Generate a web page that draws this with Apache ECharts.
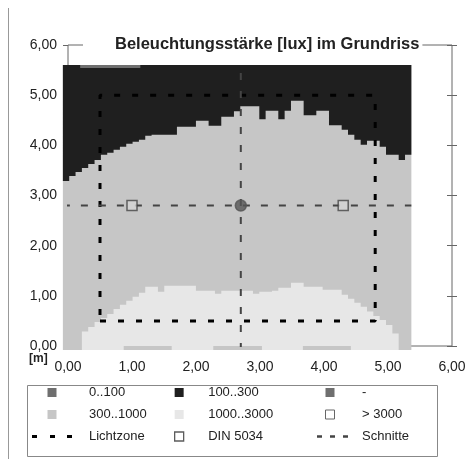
<!DOCTYPE html>
<html><head><meta charset="utf-8">
<script src="https://cdn.jsdelivr.net/npm/echarts@6/dist/echarts.min.js"></script>
<style>html,body{margin:0;padding:0;background:#fff}#c{width:471px;height:459px}</style>
</head><body><div id="c"></div>
<script>
// ---- data ----
const xTicks = [0, 1, 2, 3, 4, 5, 6];
const yTicks = [0, 1, 2, 3, 4, 5, 6];
// illuminance map: 55 columns, each column split into classes by boundary heights [m]
const colStart = -0.08, colWidth = 0.099;
const mapBottom = -0.08, mapTop = 5.6;
// lower edge of the 100..300 lux zone (dark) per column
const darkFrom = [3.29,3.39,3.47,3.55,3.63,3.71,3.81,3.85,3.91,3.97,4.03,4.07,4.11,4.19,4.21,4.21,4.21,4.21,4.37,4.37,
  4.37,4.49,4.49,4.39,4.39,4.57,4.57,4.68,4.78,4.78,4.78,4.52,4.69,4.69,4.52,4.69,4.89,4.89,4.60,4.60,
  4.69,4.69,4.40,4.40,4.31,4.21,4.11,4.01,4.09,4.09,3.97,3.81,3.81,3.71,3.81];
// upper edge of the 1000..3000 lux zone (bright) per column, 0 = none
const brightTo = [0,0,0,0.29,0.38,0.48,0.56,0.64,0.74,0.82,0.90,0.98,1.06,1.18,1.18,1.08,1.20,1.20,1.20,1.20,
  1.20,1.10,1.10,1.10,1.04,1.10,1.10,1.10,1.10,1.10,1.04,1.08,1.08,1.10,1.16,1.16,1.26,1.26,1.18,1.18,
  1.18,1.12,1.12,1.12,1.02,0.94,0.86,0.78,0.69,0.60,0.52,0.42,0.25,0,0];
// 300..1000 strips along the window wall (x ranges) and their depth
const windowStripsX = [[0.87, 1.62], [2.27, 3.03], [3.67, 4.42]];
const windowStripY = [-0.08, 0];
// 0..100 strip at the back wall
const backStripX = [[0.19, 1.13]];
const backStripY = [5.54, 5.6];
// Lichtzone rectangle
const lichtzoneX = [0.5, 4.8, 4.8, 0.5, 0.5];
const lichtzoneY = [0.5, 0.5, 5.0, 5.0, 0.5];
// Schnitte
const schnittX = 2.7, schnittY = 2.8;
// DIN 5034 points
const dinX = [1.0, 2.7, 4.3];
const dinY = [2.8, 2.8, 2.8];

// ---- chart ----
const FONT = 'Liberation Sans, Arial, sans-serif';
const fmt = v => v.toFixed(2).replace('.', ',');
const nCols = darkFrom.length;
const edge = i => colStart + colWidth * i;
const colEnd = edge(nCols);

function rectItem(x0, x1, y0, y1) {
  return function (params, api) {
    const a = api.coord([x0, y1]), b = api.coord([x1, y0]);
    return {type: 'rect', shape: {x: a[0], y: a[1], width: b[0] - a[0], height: b[1] - a[1]},
      style: {fill: api.visual('color')}};
  };
}
function rectsSeries(name, color, xr, yr) {
  return {
    type: 'custom', name, coordinateSystem: 'cartesian2d', itemStyle: {color}, z: 2,
    data: xr.map((r, i) => [i, 0]),
    renderItem: (params, api) => {
      const r = xr[params.dataIndex];
      return rectItem(r[0], r[1], yr[0], yr[1])(params, api);
    }
  };
}
function polySeries(name, color, ptsFn) {
  return {
    type: 'custom', name, coordinateSystem: 'cartesian2d', itemStyle: {color}, z: 2,
    data: [[0, 0]],
    renderItem: (params, api) => ({
      type: 'polygon', shape: {points: ptsFn().map(p => api.coord(p))},
      style: {fill: api.visual('color')}
    })
  };
}

const C_DARK = '#1f1f1f', C_MID = '#6f6f6f', C_GRAY = '#c6c6c6', C_BRIGHT = '#e7e7e7';

const series = [
  {type: 'custom', name: '300..1000', coordinateSystem: 'cartesian2d', itemStyle: {color: C_GRAY}, z: 2,
   data: [[0, 0]], renderItem: (p, api) => rectItem(colStart, colEnd, mapBottom, mapTop)(p, api)},
  polySeries('100..300', C_DARK, () => {
    const pts = [[colStart, mapTop], [colEnd, mapTop]];
    for (let i = nCols - 1; i >= 0; i--) { pts.push([edge(i + 1), darkFrom[i]]); pts.push([edge(i), darkFrom[i]]); }
    return pts;
  }),
  polySeries('1000..3000', C_BRIGHT, () => {
    const pts = [[colStart, mapBottom]];
    for (let i = 0; i < nCols; i++) {
      const h = brightTo[i] > 0 ? brightTo[i] : mapBottom;
      pts.push([edge(i), h]); pts.push([edge(i + 1), h]);
    }
    pts.push([colEnd, mapBottom]);
    return pts;
  }),
  rectsSeries('300..1000', C_GRAY, windowStripsX, windowStripY),
  rectsSeries('0..100', C_MID, backStripX, backStripY),
  {type: 'custom', name: '-', coordinateSystem: 'cartesian2d', itemStyle: {color: C_MID}, data: [], renderItem: () => null},
  {type: 'custom', name: '> 3000', coordinateSystem: 'cartesian2d', itemStyle: {color: '#fff'}, data: [], renderItem: () => null},
  {type: 'line', name: 'Lichtzone', z: 4, symbol: 'none', silent: true,
   data: lichtzoneX.map((x, i) => [x, lichtzoneY[i]]),
   lineStyle: {color: '#000', width: 3, type: [6, 12]}, itemStyle: {color: '#000'}},
  {type: 'line', name: 'Schnitte', z: 4, symbol: 'none', silent: true,
   data: [[colStart, schnittY], [colEnd, schnittY]],
   lineStyle: {color: '#444', width: 2, type: [7, 11]}, itemStyle: {color: '#444'}},
  {type: 'line', name: 'Schnitte', z: 4, symbol: 'none', silent: true,
   data: [[schnittX, mapBottom], [schnittX, mapTop]],
   lineStyle: {color: '#444', width: 2, type: [7, 11]}, itemStyle: {color: '#444'}},
  {type: 'scatter', name: 'DIN 5034', z: 5, symbol: 'rect', symbolSize: 10,
   itemStyle: {color: '#d4d4d4', borderColor: '#444', borderWidth: 1.5},
   data: dinX.map((x, i) => (x === schnittX && dinY[i] === schnittY)
     ? {value: [x, dinY[i]], symbol: 'circle', symbolSize: 11, itemStyle: {color: '#555', borderColor: '#555'}}
     : [x, dinY[i]])}
];

const SQ = 'path://M0,0H10V10H0Z';
const DASH_L = 'path://M0,0H5V3H0Z M18,0H23V3H18Z M35,0H40V3H35Z';
const DASH_S = 'path://M0,0H0.05V0.05H0Z M7,0H12V2.5H7Z M20,0H25V2.5H20Z M33,0H38V2.5H33Z M39.95,0H40V0.05H39.95Z';
const legendBase = {orient: 'vertical', top: 386, itemWidth: 40, itemHeight: 9, itemGap: 9, padding: 0,
  selectedMode: false, inactiveColor: '#ccc'};
const lt = pad => ({fontSize: 13, color: '#222', fontFamily: FONT, padding: [0, 0, 0, pad]});

const option = {
  animation: false,
  backgroundColor: '#fff',
  title: {text: 'Beleuchtungsstärke [lux] im Grundriss', left: 83, top: 35, padding: [1, 3, 1, 32],
    backgroundColor: '#fff', textStyle: {fontSize: 16.5, fontWeight: 'bold', color: '#222', fontFamily: FONT}},
  grid: {left: 68, right: 19, top: 45, bottom: 113, show: true, borderColor: '#666', borderWidth: 1},
  xAxis: {type: 'value', min: xTicks[0], max: xTicks[xTicks.length - 1], interval: 1,
    axisLine: {show: false}, axisTick: {show: false}, splitLine: {show: false},
    axisLabel: {formatter: fmt, margin: 14, fontSize: 14, color: '#222', fontFamily: FONT}},
  yAxis: [
    {type: 'value', min: yTicks[0], max: yTicks[yTicks.length - 1], interval: 1, position: 'left',
     axisLine: {show: false}, splitLine: {show: false},
     axisTick: {show: true, length: 5, lineStyle: {color: '#666'}},
     axisLabel: {formatter: fmt, margin: 11, fontSize: 14, color: '#222', fontFamily: FONT}},
    {type: 'value', min: yTicks[0], max: yTicks[yTicks.length - 1], interval: 1, position: 'right',
     axisLine: {show: false}, splitLine: {show: false}, axisLabel: {show: false},
     axisTick: {show: true, length: 5, lineStyle: {color: '#666'}}},
    {type: 'value', min: yTicks[0], max: yTicks[yTicks.length - 1], interval: 1, position: 'right',
     axisLine: {show: false}, splitLine: {show: false}, axisLabel: {show: false},
     axisTick: {show: true, inside: true, length: 5, lineStyle: {color: '#666'}}}
  ],
  legend: [
    Object.assign({}, legendBase, {left: 32, textStyle: lt(12),
      data: [{name: '0..100', icon: SQ}, {name: '300..1000', icon: SQ},
             {name: 'Lichtzone', icon: DASH_L, itemStyle: {color: '#000'}}]}),
    Object.assign({}, legendBase, {left: 174, textStyle: lt(4),
      data: [{name: '100..300', icon: SQ}, {name: '1000..3000', icon: SQ},
             {name: 'DIN 5034', icon: SQ, itemStyle: {color: '#fff', borderColor: '#333', borderWidth: 1.3}}]}),
    Object.assign({}, legendBase, {left: 310, textStyle: lt(7),
      data: [{name: '-', icon: SQ}, {name: '> 3000', icon: SQ, itemStyle: {color: '#fff', borderColor: '#666', borderWidth: 1}},
             {name: 'Schnitte', icon: DASH_S, itemStyle: {color: '#444'}}]})
  ],
  graphic: [
    {type: 'rect', left: 25, top: 383, shape: {width: 410, height: 71}, style: {fill: 'none', stroke: '#888', lineWidth: 1}},
    {type: 'line', shape: {x1: 8.5, y1: 8, x2: 8.5, y2: 459}, style: {stroke: '#999', lineWidth: 1}},
    {type: 'text', left: 29, top: 353, style: {text: '[m]', fontSize: 12, fontWeight: 'bold', fill: '#222', fontFamily: FONT}}
  ],
  series
};
const chart = echarts.init(document.getElementById('c'), null, {renderer: 'canvas'});
chart.setOption(option);
</script></body></html>
